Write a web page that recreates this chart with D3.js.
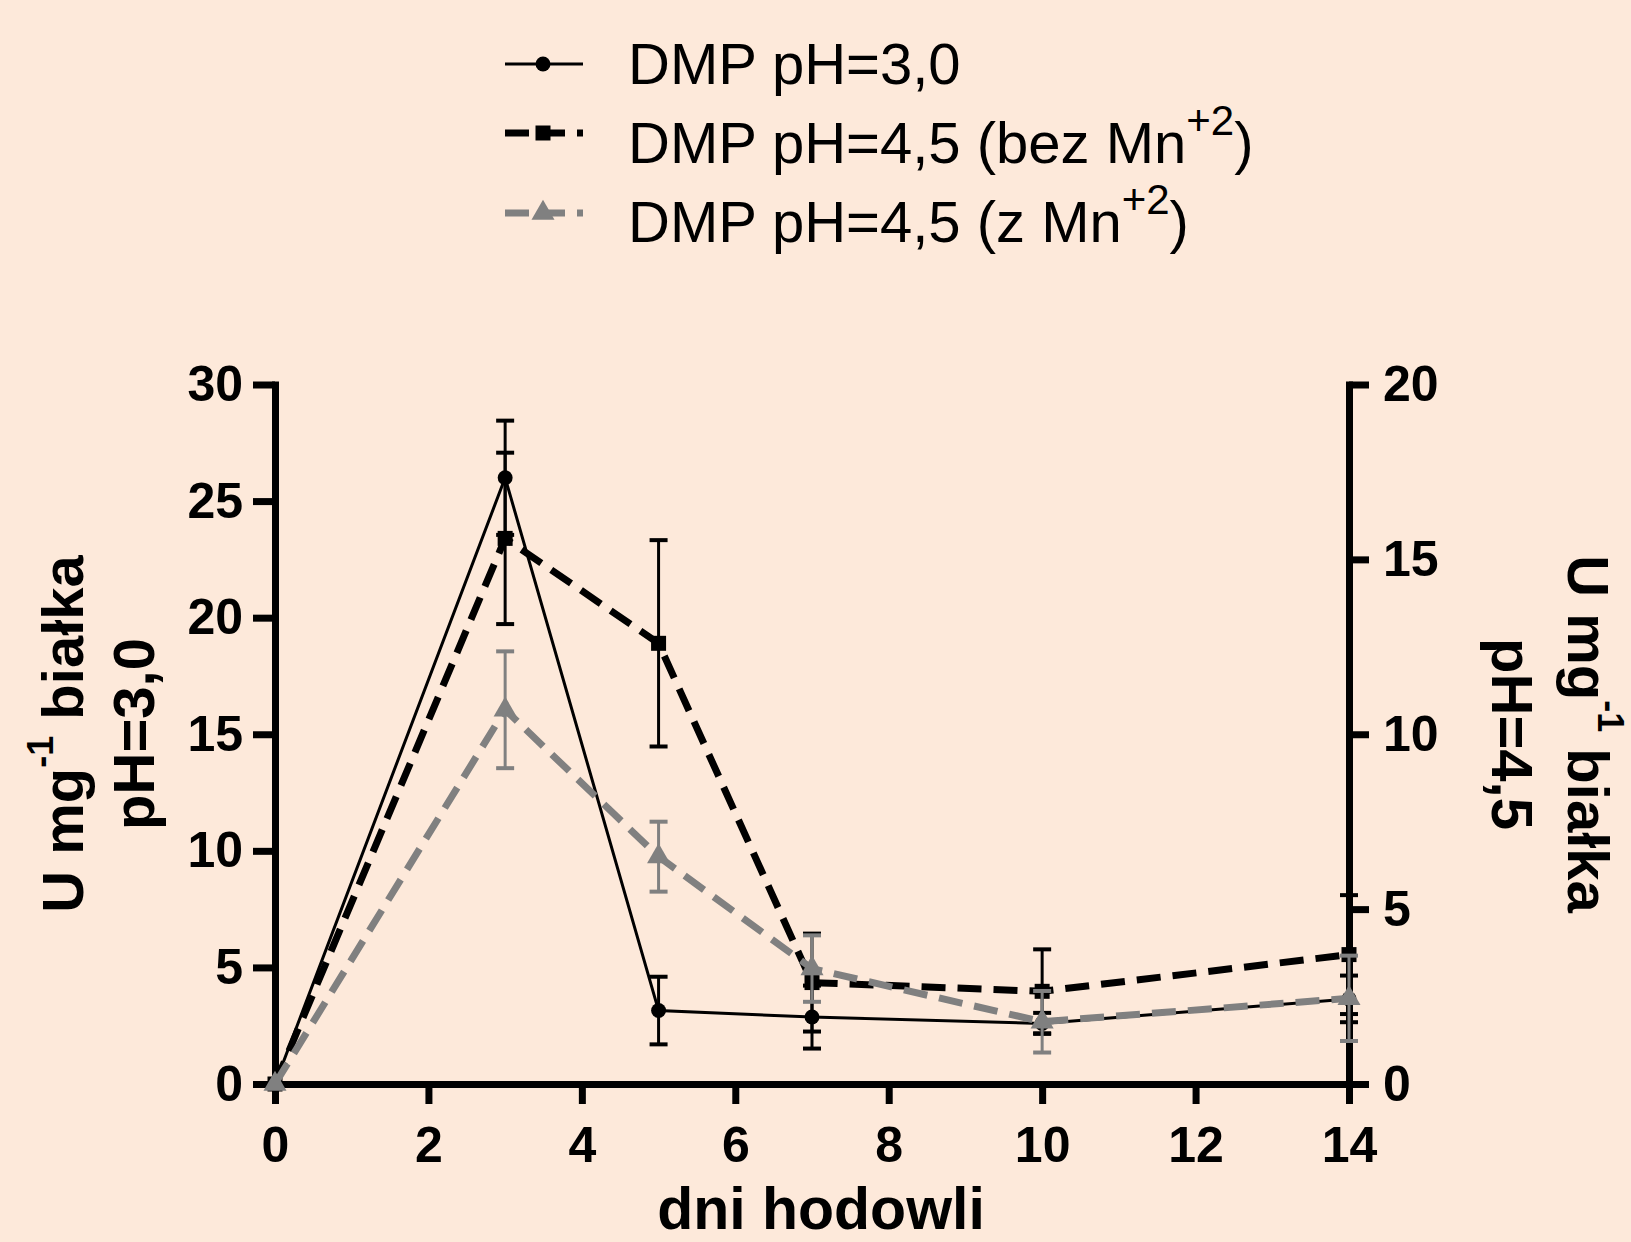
<!DOCTYPE html>
<html>
<head>
<meta charset="utf-8">
<script src="https://cdn.jsdelivr.net/npm/d3@7"></script>
<style>body{margin:0;background:#fde9da}</style>
</head>
<body>
<script>
// dni hodowli
var days = [0, 3, 5, 7, 10, 14];
// DMP pH=3,0 (left axis)
var ph30 = [0, 26.0, 3.15, 2.87, 2.6, 3.65];
var ph30Err = [0, 2.45, 1.45, 1.35, 0.45, 1.0];
// DMP pH=4,5 bez Mn (right axis)
var bezMn = [0, 15.6, 12.6, 2.9, 2.65, 3.7];
var bezMnErr = [0, 2.45, 2.95, 1.4, 1.2, 1.7];
// DMP pH=4,5 z Mn (right axis)
var zMn = [0, 10.7, 6.5, 3.3, 1.78, 2.45];
var zMnErr = [0, 1.67, 1.0, 0.95, 0.88, 1.22];

var xTicks = [0, 2, 4, 6, 8, 10, 12, 14];
var yLeftTicks = [0, 5, 10, 15, 20, 25, 30];
var yRightTicks = [0, 5, 10, 15, 20];

var font = "'Liberation Sans', Arial, sans-serif";

var svg = d3.select("body")
    .append("svg")
    .attr("width", 1631)
    .attr("height", 1242)
    .style("display", "block");

svg.append("rect").attr("width", 1631).attr("height", 1242).attr("fill", "#fde9da");

var x = d3.scaleLinear().domain([0, 14]).range([275, 1349]);
var yL = d3.scaleLinear().domain([0, 30]).range([1084, 384.5]);
var yR = d3.scaleLinear().domain([0, 20]).range([1084, 384.5]);

function styleAxis(g) {
    g.attr("font-family", font).attr("font-size", 50).attr("font-weight", "bold");
    g.select(".domain").attr("stroke-width", 7).attr("stroke-linecap", "square");
    g.selectAll(".tick line").attr("stroke-width", 7);
    g.selectAll(".tick text").attr("fill", "#000");
}

svg.append("g")
    .attr("transform", "translate(0,1084)")
    .call(d3.axisBottom(x).tickValues(xTicks).tickSize(20).tickSizeOuter(0).tickPadding(22))
    .call(styleAxis);

svg.append("g")
    .attr("transform", "translate(275,0)")
    .call(d3.axisLeft(yL).tickValues(yLeftTicks).tickSize(22).tickSizeOuter(0).tickPadding(10))
    .call(styleAxis);

svg.append("g")
    .attr("transform", "translate(1349,0)")
    .call(d3.axisRight(yR).tickValues(yRightTicks).tickSize(20).tickSizeOuter(0).tickPadding(14))
    .call(styleAxis);

var series = [
    {vals: ph30, errs: ph30Err, y: yL, color: "#000", width: 3, dash: null, sym: d3.symbolCircle, size: 175},
    {vals: bezMn, errs: bezMnErr, y: yR, color: "#000", width: 7, dash: "24,12", sym: d3.symbolSquare, size: 225},
    {vals: zMn, errs: zMnErr, y: yR, color: "#808080", width: 7, dash: "24,12", sym: d3.symbolTriangle, size: 230}
];

series.forEach(function (s) {
    var pts = days.map(function (d, i) { return {day: d, v: s.vals[i], e: s.errs[i]}; });
    var g = svg.append("g");

    // error bars
    var eb = g.selectAll(".err").data(pts.filter(function (p) { return p.e > 0; }))
        .enter().append("g").attr("class", "err")
        .attr("stroke", s.color).attr("stroke-width", 3);
    eb.append("line")
        .attr("x1", function (p) { return x(p.day); })
        .attr("x2", function (p) { return x(p.day); })
        .attr("y1", function (p) { return s.y(p.v - p.e); })
        .attr("y2", function (p) { return s.y(p.v + p.e); });
    [-1, 1].forEach(function (k) {
        eb.append("line")
            .attr("stroke-width", 4)
            .attr("x1", function (p) { return x(p.day) - 9; })
            .attr("x2", function (p) { return x(p.day) + 9; })
            .attr("y1", function (p) { return s.y(p.v + k * p.e); })
            .attr("y2", function (p) { return s.y(p.v + k * p.e); });
    });

    var line = d3.line()
        .x(function (p) { return x(p.day); })
        .y(function (p) { return s.y(p.v); });
    g.append("path")
        .datum(pts)
        .attr("d", line)
        .attr("fill", "none")
        .attr("stroke", s.color)
        .attr("stroke-width", s.width)
        .attr("stroke-dasharray", s.dash);

    g.selectAll(".mark").data(pts).enter().append("path")
        .attr("class", "mark")
        .attr("d", d3.symbol().type(s.sym).size(s.size))
        .attr("transform", function (p) { return "translate(" + x(p.day) + "," + s.y(p.v) + ")"; })
        .attr("fill", s.color);
});

// axis titles
svg.append("text")
    .attr("x", 821).attr("y", 1229)
    .attr("text-anchor", "middle")
    .attr("font-family", font).attr("font-size", 59).attr("font-weight", "bold")
    .text("dni hodowli");

function unitTitle(g) {
    var t = g.append("text")
        .attr("text-anchor", "middle")
        .attr("font-family", font).attr("font-size", 58).attr("font-weight", "bold");
    t.append("tspan").text("U mg");
    t.append("tspan").attr("font-size", 36).attr("dy", -30).text("-1");
    t.append("tspan").attr("dy", 30).text(" białka");
    return t;
}

var lt = svg.append("g").attr("transform", "translate(83,734) rotate(-90)");
unitTitle(lt);
lt.append("text").attr("y", 71).attr("text-anchor", "middle")
    .attr("font-family", font).attr("font-size", 58).attr("font-weight", "bold")
    .text("pH=3,0");

var rt = svg.append("g").attr("transform", "translate(1568,734) rotate(90)");
unitTitle(rt);
rt.append("text").attr("y", 76).attr("text-anchor", "middle")
    .attr("font-family", font).attr("font-size", 58).attr("font-weight", "bold")
    .text("pH=4,5");

// legend
var legendRows = [
    {y: 64, base: 84, text: "DMP pH=3,0", sup: null},
    {y: 133, base: 163, text: "DMP pH=4,5 (bez Mn", sup: "+2"},
    {y: 213, base: 242, text: "DMP pH=4,5 (z Mn", sup: "+2"}
];

legendRows.forEach(function (r, i) {
    var s = series[i];
    svg.append("line")
        .attr("x1", 505).attr("x2", 583)
        .attr("y1", r.y).attr("y2", r.y)
        .attr("stroke", s.color)
        .attr("stroke-width", s.width)
        .attr("stroke-dasharray", s.dash);
    svg.append("path")
        .attr("d", d3.symbol().type(s.sym).size(s.size))
        .attr("transform", "translate(543," + r.y + ")")
        .attr("fill", s.color);
    var t = svg.append("text")
        .attr("x", 628).attr("y", r.base)
        .attr("font-family", font).attr("font-size", 58);
    t.append("tspan").text(r.text);
    if (r.sup) {
        t.append("tspan").attr("font-size", 42).attr("dy", -28).text(r.sup);
        t.append("tspan").attr("dy", 28).text(")");
    }
});
</script>
</body>
</html>
